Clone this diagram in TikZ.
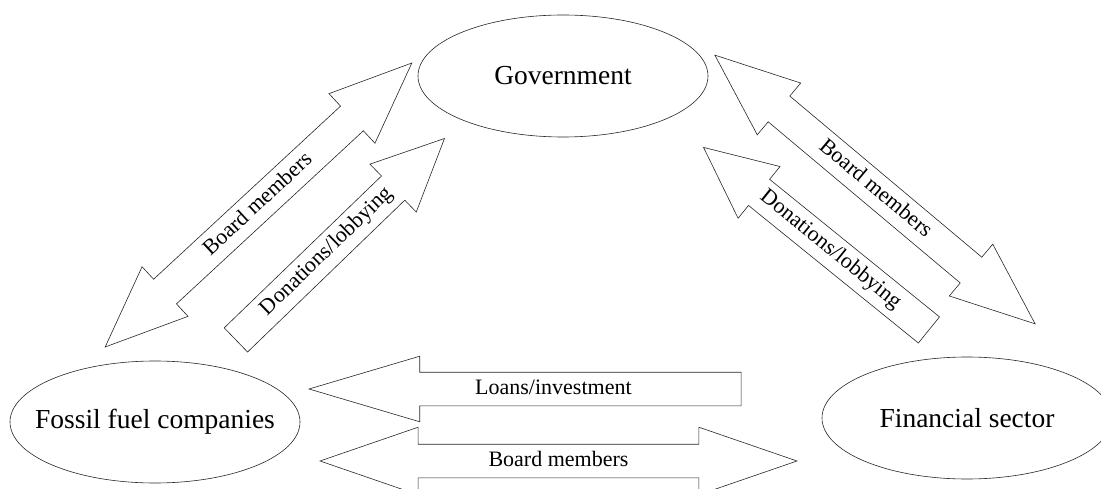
\documentclass[tikz,border=0pt]{standalone}
\usepackage{fontspec}
\setmainfont{Liberation Serif}
\usetikzlibrary{shapes.geometric,shapes.arrows}

\begin{document}
\begin{tikzpicture}[
    x=1pt, y=1pt,
    entity/.style={ellipse, draw=black!85, line width=0.6pt, minimum width=290pt, minimum height=122pt, inner xsep=-25pt, inner ysep=0pt, font=\fontsize{27.5}{33}\selectfont},
    flow/.style={single arrow, draw=black!85, line width=0.6pt, single arrow head extend=16.5pt, single arrow tip angle=50, text height=15pt, text depth=5pt, inner ysep=6.5pt, inner xsep=2pt, font=\fontsize{22}{26}\selectfont},
    twoway/.style={double arrow, draw=black!85, line width=0.6pt, double arrow head extend=17pt, double arrow tip angle=45, text height=15pt, text depth=5pt, inner ysep=6.5pt, inner xsep=2pt, font=\fontsize{22}{26}\selectfont}
]
    \useasboundingbox (0,0) rectangle (1101,488);
    \clip (0,0) rectangle (1101,488);

    % The three actors
    \node[entity] (gov) at (563,412) {Government};
    \node[entity] (fossil) at (155,66) {Fossil fuel companies};
    \node[entity] (finance) at (967,70) {Financial sector};

    % Government - fossil fuel companies
    \node[twoway, rotate=42.8, minimum height=418pt] (govFossilBoard) at (258.5,283) {Board members};
    \node[flow, rotate=44, anchor=tip, minimum height=290pt] (fossilGovDon) at (445,350) {Donations/lobbying};

    % Government - financial sector
    \node[twoway, rotate=-40, minimum height=418pt, double arrow tip angle=44] (govFinBoard) at (875,298.5) {Board members};
    \node[flow, rotate=-39, shape border rotate=180, anchor=tip, minimum height=290pt] (finGovDon) at (703,341) {Donations/lobbying};

    % Fossil fuel companies - financial sector
    \node[flow, shape border rotate=180, anchor=tip, minimum height=432pt, single arrow head extend=16pt, single arrow tip angle=33] (finFossilLoan) at (308,99) {Loans/investment};
    \node[twoway, minimum height=477pt, double arrow tip angle=38] (fossilFinBoard) at (558.5,27) {Board members};
\end{tikzpicture}
\end{document}
